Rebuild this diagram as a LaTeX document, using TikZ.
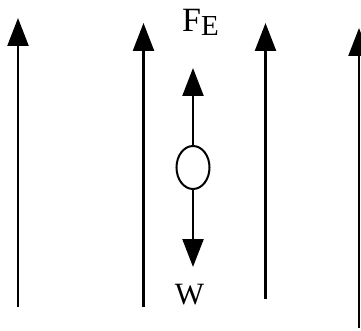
\documentclass[tikz,border=0pt]{standalone}
\usepackage{fontspec}
\setmainfont{Liberation Serif}
\usetikzlibrary{arrows.meta}
\usetikzlibrary{shapes.geometric}
\usetikzlibrary{positioning}

\begin{document}
\begin{tikzpicture}[x=1pt, y=-1pt,
    line/.style={line width=2.4pt, -{Triangle[length=28pt,width=21pt]}},
    every node/.style={font=\fontsize{31}{31}\selectfont, inner sep=0}
  ]
  \useasboundingbox (0,0) rectangle (361,331);

  % field lines
  \coordinate (a_in) at (18,307);
  \coordinate (a_out) at (18,18);
  \coordinate (b_in) at (143.5,307);
  \coordinate (b_out) at (143.5,23);
  \coordinate (c_in) at (265.5,299);
  \coordinate (c_out) at (265.5,23);
  \coordinate (d_in) at (359,328);
  \coordinate (d_out) at (359,28);

  \draw[line] (a_in) to (a_out);
  \draw[line] (b_in) to (b_out);
  \draw[line] (c_in) to (c_out);
  \draw[line] (d_in) to (d_out);

  % particle and forces
  \node[ellipse, draw, line width=2pt, minimum width=33pt, minimum height=43pt] (ball) at (193,167.5) {};
  \coordinate (fe) at (193,68);
  \coordinate (w) at (193,267);

  \draw[line] (ball.north) to (fe);
  \draw[line] (ball.south) to (w);

  \node[anchor=base west, font=\fontsize{34}{34}\selectfont] (fe_label) at (182,32) {F\raisebox{-4pt}{\fontsize{29}{29}\selectfont E}};
  \node[anchor=base] (w_label) at (189.5,304) {W};
\end{tikzpicture}
\end{document}
